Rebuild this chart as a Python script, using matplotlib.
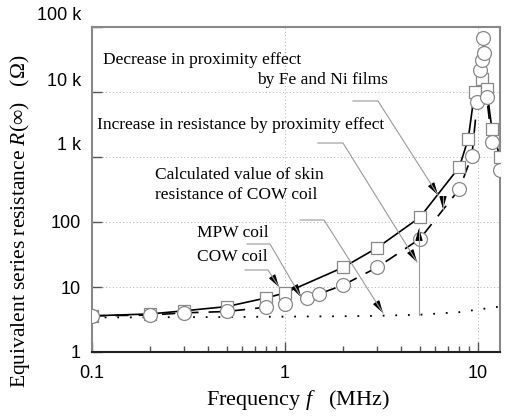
import matplotlib
matplotlib.use("Agg")
import matplotlib.pyplot as plt
import matplotlib.transforms as mtrans
from matplotlib.ticker import FixedLocator, NullFormatter

plt.rcParams['mathtext.fontset'] = 'custom'
plt.rcParams['mathtext.rm'] = 'Liberation Serif'
plt.rcParams['mathtext.it'] = 'Liberation Serif:italic'

# MPW coil (squares, solid line)
mpw_f = [0.1, 0.2, 0.3, 0.5, 0.8, 1.0, 2.0, 3.0, 5.0, 8.0, 8.9, 9.6, 10.5, 11.1, 11.8, 13.0]
mpw_r = [3.6, 3.85, 4.3, 5.0, 6.8, 8.1, 20, 40, 118, 700, 1900, 10000, 16000, 11000, 2700, 1000]

# COW coil (circles, dashed line)
cow_f = [0.1, 0.2, 0.3, 0.5, 0.8, 1.0, 1.3, 1.5, 2.0, 3.0, 5.0, 8.0, 9.3, 9.9, 10.3, 10.5, 10.6, 10.7, 11.1, 11.8, 13.0]
cow_r = [3.6, 3.7, 4.0, 4.2, 4.9, 5.5, 6.8, 7.8, 10.7, 20, 55, 320, 1050, 7000, 22000, 31000, 68000, 40000, 8300, 1700, 630]

# calculated skin resistance of COW coil (dotted)
skin_f = [0.1, 0.5, 1.0, 2.0, 3.0, 5.0, 8.0, 10.0, 13.0]
skin_r = [3.4, 3.45, 3.5, 3.55, 3.6, 3.75, 4.1, 4.5, 5.0]

ytick_vals = [1, 10, 100, 1000, 10000, 100000]
ytick_text = ['1', '10', '100', '1 k', '10 k', '100 k']
xtick_vals = [0.1, 1, 10]
xtick_text = ['0.1', '1', '10']

W, H = 509, 418
fig = plt.figure(figsize=(W / 100, H / 100), dpi=100)
ax = fig.add_axes([92 / W, 1 - 352 / H, (500 - 92) / W, (352 - 27) / H])
ax.set_xscale('log')
ax.set_yscale('log')
ax.set_xlim(0.1, 13.0)
ax.set_ylim(1, 1e5)

ax.plot(skin_f, skin_r, color='black', lw=1.3, ls=(0, (1, 6)), zorder=2)
ax.plot(mpw_f, mpw_r, color='black', lw=1.2, zorder=2)
ax.plot(cow_f, cow_r, color='black', lw=1.2, ls=(0, (8, 6)), zorder=2)
ax.plot(mpw_f, mpw_r, ls='none', marker='s', ms=8.5, mfc='white', mec='#888888', mew=0.9, zorder=3)
ax.plot(cow_f, cow_r, ls='none', marker='o', ms=10, mfc='white', mec='#888888', mew=0.9, zorder=4)

ax.grid(True, which='major', ls=(0, (1, 2.5)), color='#b0b0b0', lw=0.7)
ax.set_yticks(ytick_vals)
ax.set_yticklabels(ytick_text)
ax.yaxis.set_minor_locator(FixedLocator([]))
ax.set_xticks(xtick_vals)
ax.set_xticklabels(xtick_text)
ax.xaxis.set_minor_locator(FixedLocator([a * b for b in (0.1, 1) for a in range(2, 10)]))
ax.xaxis.set_minor_formatter(NullFormatter())
ax.tick_params(which='major', direction='in', length=7, width=1, color='#555555',
               labelsize=13, labelfontfamily='Liberation Sans')
ax.tick_params(axis='y', pad=8)
ax.tick_params(axis='x', pad=9)
ax.tick_params(which='minor', direction='in', length=4, width=1, color='#555555')
for s in ax.spines.values():
    s.set_color('#888888')
    s.set_linewidth(1.5)
ax.spines['bottom'].set_color('#222222')

# the "k" labels sit higher than their ticks in the original
for lab in ax.get_yticklabels():
    if 'k' in lab.get_text():
        lab.set_transform(lab.get_transform() + mtrans.ScaledTranslation(0, 13 / 100, fig.dpi_scale_trans))

serif = 'Liberation Serif'
fig.text(298 / W, 1 - 400 / H, 'Frequency $f$   (MHz)', ha='center', va='center',
         fontsize=16, family=serif)
fig.text(20 / W, 1 - 221 / H, 'Equivalent series resistance $R$(\u221e)   (\u03a9)', ha='center',
         va='center', rotation=90, fontsize=15.5, family=serif)


def P(x, y):
    return (x / W, 1 - y / H)


notes = [
    ('Decrease in proximity effect', 103, 60, 'left'),
    ('by Fe and Ni films', 388, 80, 'right'),
    ('Increase in resistance by proximity effect', 97, 125, 'left'),
    ('Calculated value of skin', 155, 175, 'left'),
    ('resistance of COW coil', 155, 195, 'left'),
    ('MPW coil', 197, 233, 'left'),
    ('COW coil', 197, 257, 'left'),
]
for txt, x, y, ha in notes:
    fig.text(*P(x, y), txt, ha=ha, va='center', fontsize=12.5, family=serif)

leaders = [
    [(353, 101), (378, 101), (438, 195)],
    [(318, 143), (343, 143), (417, 262)],
    [(300, 220), (324, 220), (383, 313)],
    [(247, 244), (270, 244), (301, 297)],
    [(245, 270), (268, 270), (279, 287)],
    [(419, 315), (419, 228)],
    [(443, 196), (443, 209)],
]
for pts in leaders:
    xs = [p[0] / W for p in pts]
    ys = [1 - p[1] / H for p in pts]
    fig.add_artist(plt.Line2D(xs, ys, transform=fig.transFigure, color='#999999', lw=0.8))
    (x0, y0), (x1, y1) = pts[-2], pts[-1]
    d = ((x1 - x0) ** 2 + (y1 - y0) ** 2) ** 0.5
    L = min(11, d)
    sx, sy = x1 - (x1 - x0) / d * L, y1 - (y1 - y0) / d * L
    fig.add_artist(matplotlib.patches.FancyArrowPatch(
        P(sx, sy), P(x1, y1), transform=fig.transFigure,
        arrowstyle='-|>,head_length=0.75,head_width=0.22', mutation_scale=10,
        color='black', lw=0.8, shrinkA=0, shrinkB=0))

fig.savefig('out.png', dpi=100)
